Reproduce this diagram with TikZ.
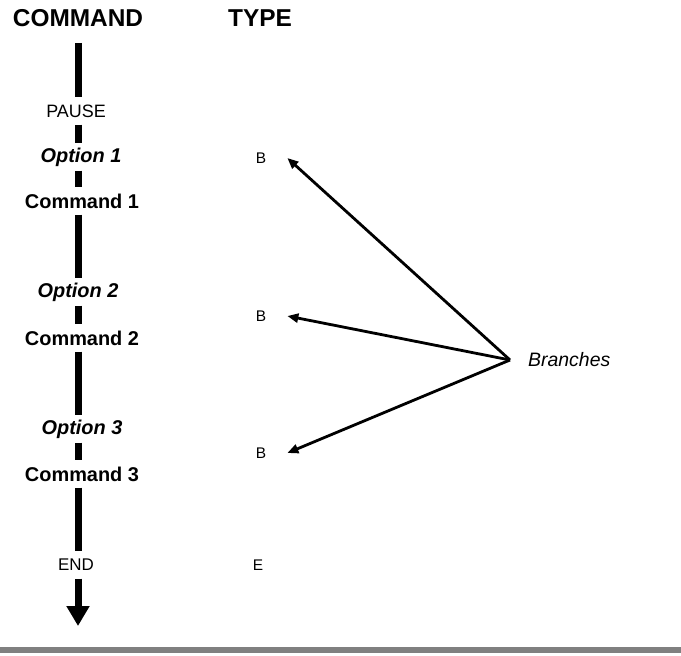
\documentclass[tikz,border=0pt]{standalone}
\usepackage{fontspec}
\setmainfont{Liberation Sans}
\usetikzlibrary{arrows.meta}
\begin{document}
\begin{tikzpicture}[x=1bp,y=-1bp,
  head/.style={font=\fontsize{24.5}{24.5}\selectfont\bfseries, inner sep=0pt},
  step label/.style={font=\fontsize{18}{18}\selectfont, inner sep=0pt, minimum height=27bp},
  cmdlabel/.style={step label, font=\fontsize{20}{20}\selectfont\bfseries},
  optlabel/.style={step label, font=\fontsize{20}{20}\selectfont\bfseries\itshape},
  typelabel/.style={font=\fontsize{15.5}{15.5}\selectfont, inner ysep=0pt, inner xsep=21bp},
  flow/.style={line width=7bp},
  branch/.style={line width=2.8bp, -{Triangle[width=9bp,length=11bp]}}
]
\useasboundingbox (0,0) rectangle (681,656);

% column headings
\node[head] (hcmd) at (78,18) {COMMAND};
\node[head] (htype) at (260,18) {TYPE};

% command column
\coordinate (start) at (78,43);
\node[step label] (pause) at (76,111) {PAUSE};
\node[optlabel] (opt1) at (81,157) {Option 1};
\node[cmdlabel] (cmd1) at (82,201) {Command 1};
\node[optlabel] (opt2) at (78,292) {Option 2};
\node[cmdlabel] (cmd2) at (82,338) {Command 2};
\node[optlabel] (opt3) at (82,429) {Option 3};
\node[cmdlabel] (cmd3) at (82,474) {Command 3};
\node[step label, font=\fontsize{17}{17}\selectfont] (end) at (76,565) {END};
\coordinate (finish) at (78,626);

\draw[flow] (start) -- (pause.north -| start);
\draw[flow] (pause.south -| start) -- (opt1.north -| start);
\draw[flow] (opt1.south -| start) -- (cmd1.north -| start);
\draw[flow] (cmd1.south -| start) -- (opt2.north -| start);
\draw[flow] (opt2.south -| start) -- (cmd2.north -| start);
\draw[flow] (cmd2.south -| start) -- (opt3.north -| start);
\draw[flow] (opt3.south -| start) -- (cmd3.north -| start);
\draw[flow] (cmd3.south -| start) -- (end.north -| start);
\draw[flow, -{Triangle[width=22bp,length=20bp]}] (end.south -| start) -- (finish);

% type column
\node[typelabel] (b1) at (261,158) {B};
\node[typelabel] (b2) at (261,316) {B};
\node[typelabel] (b3) at (261,453) {B};
\node[typelabel, inner xsep=0pt] (e) at (258,565) {E};

% branches
\coordinate (hub) at (510,360);
\node[font=\fontsize{19.5}{19.5}\selectfont\itshape, anchor=west, inner sep=0pt] (br) at (528,360) {Branches};
\draw[branch] (hub) -- (b1.east);
\draw[branch] (hub) -- (b2.east);
\draw[branch] (hub) -- (b3.east);

% rule at the foot
\fill[black!50] (0,647) rectangle (681,653);
\end{tikzpicture}
\end{document}
